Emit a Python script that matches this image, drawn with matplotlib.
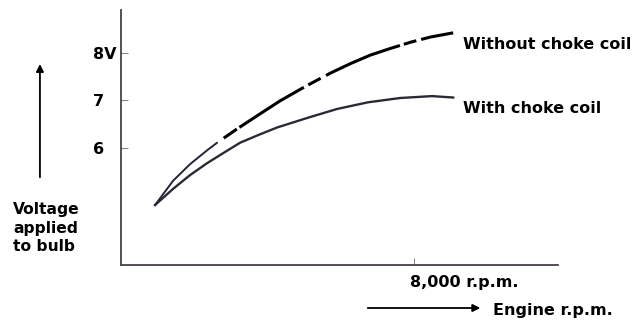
import matplotlib.pyplot as plt
from matplotlib.transforms import ScaledTranslation

plt.rcParams['lines.scale_dashes'] = False

# Datos (rpm, voltios)
rpm_sin = [929, 1421, 1885, 2350, 2623, 3169, 3743, 4344, 5027, 5710, 6257, 6803,
           7350, 7896, 8443, 9071]
v_sin = [4.80, 5.31, 5.66, 5.95, 6.11, 6.40, 6.69, 6.99, 7.29, 7.57, 7.77, 7.95,
         8.09, 8.22, 8.33, 8.42]

rpm_con = [929, 1421, 1885, 2350, 2787, 3251, 3743, 4262, 5082, 5902, 6749, 7623,
           8497, 9071]
v_con = [4.80, 5.14, 5.43, 5.68, 5.89, 6.11, 6.27, 6.43, 6.63, 6.82, 6.96, 7.05,
         7.09, 7.06]

yticks = [6, 7, 8]
ytick_labels = ['6', '7', '8V']
xticks = [8000]
xtick_labels = ['8,000 r.p.m.']

FS = 11.5
fig = plt.figure(figsize=(6.34, 3.22), dpi=100)
ax = fig.add_axes([0.1909, 0.177, 0.689, 0.792])
ax.set_xlim(0, 11930)
ax.set_ylim(3.54, 8.9)

axis_col = '#4a3f4a'
for s in ['top', 'right']:
    ax.spines[s].set_visible(False)
for s in ['left', 'bottom']:
    ax.spines[s].set_color(axis_col)
    ax.spines[s].set_linewidth(1.3)

# curva sin bobina: tramo inicial fino y continuo, luego a trazos
k = 5
ax.plot(rpm_sin[:k], v_sin[:k], color='#262238', lw=1.4, solid_capstyle='round')
ax.plot(rpm_sin[k - 1:], v_sin[k - 1:], color='black', lw=2.2,
        linestyle=(0, (0.01, 5.8, 11.5, 2.2, 54.7, 3.6, 10.1, 4.3, 57.6, 2.9,
                       9.4, 3.6, 40, 10)))
# curva con bobina
ax.plot(rpm_con, v_con, color='#2e2836', lw=1.7)

ax.set_yticks(yticks)
ax.set_yticklabels(ytick_labels, fontsize=FS, fontweight='bold', ha='left')
ax.set_xticks(xticks)
ax.set_xticklabels(xtick_labels, fontsize=FS, fontweight='bold', ha='left')
ax.tick_params(axis='both', direction='in', length=5, color='#888888')
ax.tick_params(axis='y', pad=20)
ax.tick_params(axis='x', pad=7)
for lbl in ax.get_xticklabels():
    lbl.set_transform(lbl.get_transform() + ScaledTranslation(-0.04, 0, fig.dpi_scale_trans))

ax.text(9344, 8.08, 'Without choke coil', fontsize=FS, fontweight='bold', va='baseline')
ax.text(9344, 6.74, 'With choke coil', fontsize=FS, fontweight='bold', va='baseline')

# flechas y rotulos de ejes
fig.text(0.0205, 0.372, 'Voltage\napplied\nto bulb', fontsize=FS - 0.3, fontweight='bold',
         va='top', ha='left', linespacing=1.3)
fig.add_artist(plt.Annotation('', xy=(0.063, 0.81), xytext=(0.063, 0.441),
                              xycoords='figure fraction',
                              arrowprops=dict(arrowstyle='-|>', color='black', lw=1.3,
                                              mutation_scale=11)))
fig.add_artist(plt.Annotation('', xy=(0.762, 0.0435), xytext=(0.5757, 0.0435),
                              xycoords='figure fraction',
                              arrowprops=dict(arrowstyle='-|>', color='black', lw=1.3,
                                              mutation_scale=11)))
fig.text(0.7776, 0.0217, 'Engine r.p.m.', fontsize=FS, fontweight='bold', va='baseline')

fig.savefig('out.png', dpi=100)
